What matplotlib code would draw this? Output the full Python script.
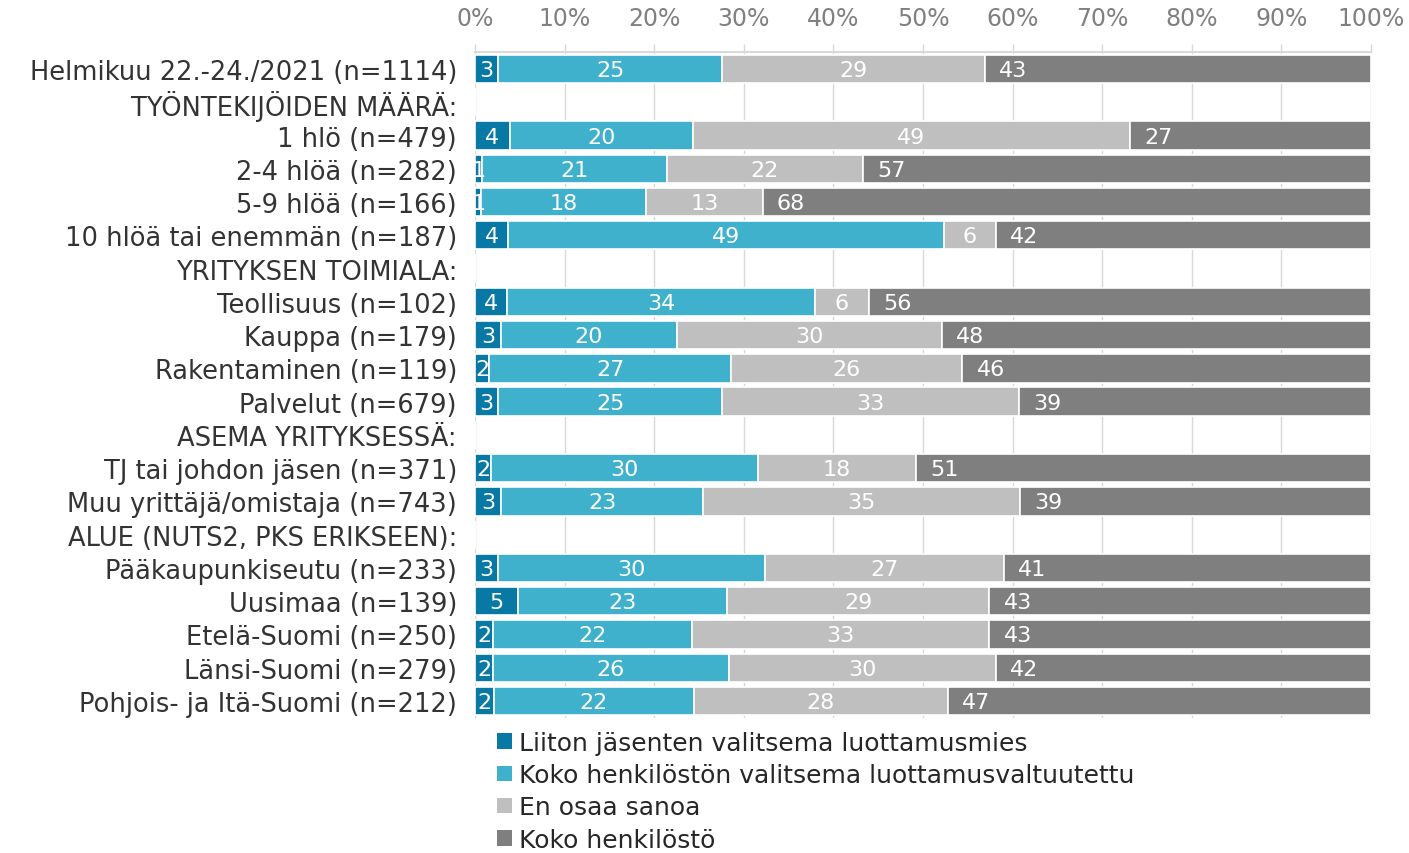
import matplotlib.pyplot as plt
from matplotlib.patches import Patch
import numpy as np

# rows (headers have no bar)
categories = [
    'Helmikuu 22.-24./2021 (n=1114)',
    'TYÖNTEKIJÖIDEN MÄÄRÄ:',
    '1 hlö (n=479)',
    '2-4 hlöä (n=282)',
    '5-9 hlöä (n=166)',
    '10 hlöä tai enemmän (n=187)',
    'YRITYKSEN TOIMIALA:',
    'Teollisuus (n=102)',
    'Kauppa (n=179)',
    'Rakentaminen (n=119)',
    'Palvelut (n=679)',
    'ASEMA YRITYKSESSÄ:',
    'TJ tai johdon jäsen (n=371)',
    'Muu yrittäjä/omistaja (n=743)',
    'ALUE (NUTS2, PKS ERIKSEEN):',
    'Pääkaupunkiseutu (n=233)',
    'Uusimaa (n=139)',
    'Etelä-Suomi (n=250)',
    'Länsi-Suomi (n=279)',
    'Pohjois- ja Itä-Suomi (n=212)',
]

series_names = [
    'Liiton jäsenten valitsema luottamusmies',
    'Koko henkilöstön valitsema luottamusvaltuutettu',
    'En osaa sanoa',
    'Koko henkilöstö',
]

nan = np.nan
luottamusmies = [2.6, nan, 3.9, 0.8, 0.7, 3.7, nan, 3.6, 2.9, 1.6, 2.6, nan, 1.8, 2.9, nan, 2.6, 4.8, 2.0, 2.0, 2.1]
valtuutettu = [25.0, nan, 20.4, 20.6, 18.4, 48.6, nan, 34.3, 19.6, 27.0, 25.0, nan, 29.8, 22.6, nan, 29.8, 23.3, 22.2, 26.3, 22.3]
en_osaa = [29.3, nan, 48.8, 21.9, 13.0, 5.8, nan, 6.1, 29.6, 25.8, 33.1, nan, 17.6, 35.3, nan, 26.6, 29.3, 33.2, 29.8, 28.4]
koko = [43.1, nan, 26.9, 56.7, 67.9, 41.9, nan, 56.0, 47.9, 45.6, 39.3, nan, 50.8, 39.2, nan, 41.0, 42.6, 42.6, 41.9, 47.2]

colors = ['#0878a4', '#3fb1cc', '#bfbfbf', '#7f7f7f']

fig = plt.figure(figsize=(14.09, 8.54), dpi=100)
ax = fig.add_axes([475 / 1409, 1 - 718.6 / 854, 896 / 1409, (718.6 - 53.4) / 854])

y = np.arange(len(categories))
left = np.zeros(len(categories))
all_series = [luottamusmies, valtuutettu, en_osaa, koko]
for k, (vals, col, name) in enumerate(zip(all_series, colors, series_names)):
    v = np.array(vals, dtype=float)
    w = np.nan_to_num(v)
    ax.barh(y, w, left=left, height=0.85, color=col, edgecolor='white',
            linewidth=1.2, label=name, zorder=3)
    for i, val in enumerate(v):
        if np.isnan(val):
            continue
        if k == 3:
            # last segment label sits near its start
            ax.text(left[i] + 1.6, y[i] + 0.03, f'{val:.0f}', ha='left', va='center',
                    color='white', fontsize=16, zorder=4)
        else:
            ax.text(left[i] + w[i] / 2, y[i] + 0.03, f'{val:.0f}', ha='center', va='center',
                    color='white', fontsize=16, zorder=4, clip_on=True)
    left += w

ax.set_xlim(0, 100)
ax.set_ylim(len(categories) - 0.5, -0.5)
ax.set_xticks(np.arange(0, 101, 10))
ax.set_xticklabels([f'{t}%' for t in range(0, 101, 10)])
ax.xaxis.tick_top()
ax.tick_params(axis='x', colors='#d9d9d9', labelcolor='#808080', labelsize=17,
               length=6, width=1, pad=10)
ax.set_yticks(y)
ax.set_yticklabels(categories)
ax.tick_params(axis='y', length=0, labelsize=18.5, labelcolor='#333333', pad=13)
ax.grid(axis='x', color='#d9d9d9', linewidth=1, zorder=0)
for s in ['right', 'bottom', 'left']:
    ax.spines[s].set_visible(False)
ax.spines['top'].set_color('#d9d9d9')
ax.spines['top'].set_linewidth(1.5)

handles = [Patch(facecolor=c, edgecolor='none') for c in colors]
leg = fig.legend(handles, series_names, loc='upper left',
                 bbox_to_anchor=(497 / 1409, 1 - 732 / 854),
                 frameon=False, handlelength=0.58, handleheight=0.58,
                 handletextpad=0.3, labelspacing=0.33, borderpad=0, borderaxespad=0,
                 prop={'family': 'DejaVu Sans', 'size': 18})
for t in leg.get_texts():
    t.set_color('#262626')

plt.savefig('out.png', dpi=100)
